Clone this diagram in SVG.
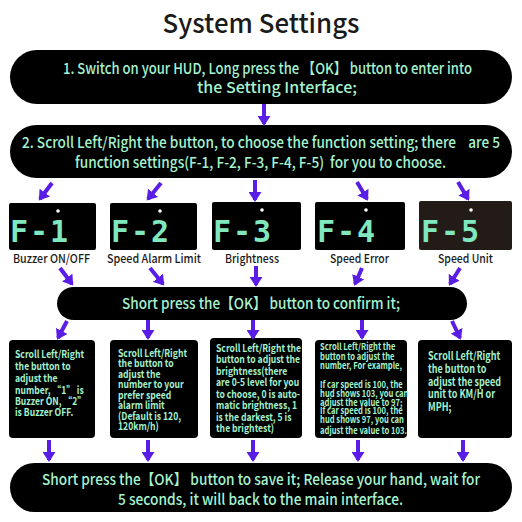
<svg xmlns="http://www.w3.org/2000/svg" width="522" height="522" viewBox="0 0 522 522">
<style>
.bar{fill:#000}
.t{font-family:"Noto Sans CJK SC","Noto Sans",sans-serif;font-weight:500;fill:#a6f2cc;text-anchor:middle;font-size:15px;white-space:pre}
.b{font-family:"Noto Sans CJK SC","Noto Sans",sans-serif;font-weight:700;fill:#a6f2cc}
.lbl{font-family:"Noto Sans CJK SC","Noto Sans",sans-serif;font-weight:500;fill:#1a1a1a;font-size:12px;text-anchor:middle}
.seg{font-family:"DejaVu Sans Mono",monospace;font-weight:700;fill:#7fe8bf;font-size:30px}
.arr{stroke:#5a1de6;stroke-width:4;fill:none;marker-end:url(#ah)}
</style>
<defs>
<marker id="ah" markerUnits="userSpaceOnUse" markerWidth="13" markerHeight="13" refX="8" refY="6.5" orient="auto">
<path d="M0,0 L10,6.5 L0,13 z" fill="#5a1de6"/>
</marker>
</defs>
<rect width="522" height="522" fill="#fff"/>
<text x="261" y="33" font-family="'Noto Sans CJK SC','Noto Sans',sans-serif" font-weight="500" font-size="26" fill="#1a1a1a" text-anchor="middle" textLength="197" lengthAdjust="spacingAndGlyphs">System Settings</text>

<g id="step1">
<rect class="bar" x="10" y="50" width="502" height="54" rx="27"/>
<text class="t" x="267.5" y="74" textLength="409" lengthAdjust="spacingAndGlyphs">1. Switch on your HUD, Long press the 【OK】 button to enter into</text>
<text class="t" x="277" y="93" textLength="160" lengthAdjust="spacingAndGlyphs">the Setting Interface;</text>
</g>

<g id="step2">
<rect class="bar" x="10" y="125" width="502" height="53" rx="26.5"/>
<text class="t" x="261" y="148" textLength="478" lengthAdjust="spacingAndGlyphs">2. Scroll Left/Right the button, to choose the function setting; there    are 5</text>
<text class="t" x="260.5" y="168" textLength="371" lengthAdjust="spacingAndGlyphs">function settings(F-1, F-2, F-3, F-4, F-5)  for you to choose.</text>
</g>

<g id="f1">
<rect x="9" y="203" width="87" height="47" rx="2" fill="#000"/>
<circle cx="58" cy="211" r="1.8" fill="#fff"/>
<text class="seg" x="10" y="242" letter-spacing="2">F-1</text>
<text class="lbl" x="51.5" y="263" textLength="77" lengthAdjust="spacingAndGlyphs">Buzzer ON/OFF</text>
</g>
<g id="f2">
<rect x="110" y="203" width="87" height="47" rx="2" fill="#000"/>
<circle cx="160" cy="211" r="1.8" fill="#fff"/>
<text class="seg" x="111" y="242" letter-spacing="2">F-2</text>
<text class="lbl" x="154" y="263" textLength="94" lengthAdjust="spacingAndGlyphs">Speed Alarm Limit</text>
</g>
<g id="f3">
<rect x="212" y="202" width="89" height="48" rx="2" fill="#000"/>
<circle cx="262" cy="210" r="1.8" fill="#fff"/>
<text class="seg" x="213" y="242" letter-spacing="2">F-3</text>
<text class="lbl" x="252" y="263" textLength="54" lengthAdjust="spacingAndGlyphs">Brightness</text>
</g>
<g id="f4">
<rect x="315" y="202" width="90" height="48" rx="2" fill="#000"/>
<circle cx="366" cy="210" r="1.8" fill="#fff"/>
<text class="seg" x="317" y="242" letter-spacing="2">F-4</text>
<text class="lbl" x="359.5" y="263" textLength="59" lengthAdjust="spacingAndGlyphs">Speed Error</text>
</g>
<g id="f5">
<rect x="419" y="201" width="93" height="49" rx="2" fill="#231b17"/>
<circle cx="471" cy="210" r="1.8" fill="#fff"/>
<text class="seg" x="421" y="242" letter-spacing="2">F-5</text>
<text class="lbl" x="465.5" y="263" textLength="55" lengthAdjust="spacingAndGlyphs">Speed Unit</text>
</g>

<g id="confirm">
<rect class="bar" x="57" y="287" width="410" height="33" rx="16.5"/>
<text class="t" x="261" y="309" textLength="278" lengthAdjust="spacingAndGlyphs">Short press the【OK】 button to confirm it;</text>
</g>

<g id="d1">
<rect x="9" y="340" width="86" height="98" rx="4" fill="#000"/>
<g transform="translate(15 0) scale(0.82 1)">
<text class="b" font-size="10.5">
<tspan x="0" y="358">Scroll Left/Right</tspan>
<tspan x="0" y="370">the button to</tspan>
<tspan x="0" y="382">adjust the</tspan>
<tspan x="0" y="394">number, “1”  is</tspan>
<tspan x="0" y="405">Buzzer ON,  “2”</tspan>
<tspan x="0" y="416">is Buzzer OFF.</tspan>
</text>
</g>
</g>
<g id="d2">
<rect x="110" y="340" width="88" height="98" rx="4" fill="#000"/>
<g transform="translate(118 0) scale(0.82 1)">
<text class="b" font-size="10.5">
<tspan x="0" y="357">Scroll Left/Right</tspan>
<tspan x="0" y="367.5">the button to</tspan>
<tspan x="0" y="378">adjust the</tspan>
<tspan x="0" y="388.5">number to your</tspan>
<tspan x="0" y="399">prefer speed</tspan>
<tspan x="0" y="409.5">alarm limit</tspan>
<tspan x="0" y="420">(Default is 120,</tspan>
<tspan x="0" y="430.5">120km/h)</tspan>
</text>
</g>
</g>
<g id="d3">
<rect x="210" y="338" width="92" height="100" rx="4" fill="#000"/>
<g transform="translate(216 0) scale(0.82 1)">
<text class="b" font-size="10.5">
<tspan x="0" y="352">Scroll Left/Right the</tspan>
<tspan x="0" y="363.5">button to adjust the</tspan>
<tspan x="0" y="375">brightness(there</tspan>
<tspan x="0" y="386.5">are 0-5 level for you</tspan>
<tspan x="0" y="398">to choose, 0 is auto-</tspan>
<tspan x="0" y="409.5">matic brightness, 1</tspan>
<tspan x="0" y="421">is the darkest, 5 is</tspan>
<tspan x="0" y="432.5">the brightest)</tspan>
</text>
</g>
</g>
<g id="d4">
<rect x="315" y="340" width="92" height="98" rx="4" fill="#000"/>
<g transform="translate(320 0) scale(0.82 1)">
<text class="b" font-size="9.3">
<tspan x="0" y="350">Scroll Left/Right the</tspan>
<tspan x="0" y="360">button to adjust the</tspan>
<tspan x="0" y="369.5">number, For example,</tspan>
<tspan x="0" y="388">If car speed is 100, the</tspan>
<tspan x="0" y="397">hud shows 103, you can</tspan>
<tspan x="0" y="406">adjust the value to 97;</tspan>
<tspan x="0" y="414.5">If car speed is 100, the</tspan>
<tspan x="0" y="423.5">hud shows 97, you can</tspan>
<tspan x="0" y="434">adjust the value to 103.</tspan>
</text>
</g>
</g>
<g id="d5">
<rect x="418" y="340" width="94" height="98" rx="4" fill="#000"/>
<g transform="translate(428 0) scale(0.82 1)">
<text class="b" font-size="11">
<tspan x="0" y="360">Scroll Left/Right</tspan>
<tspan x="0" y="373">the button to</tspan>
<tspan x="0" y="386">adjust the speed</tspan>
<tspan x="0" y="398">unit to KM/H or</tspan>
<tspan x="0" y="411">MPH;</tspan>
</text>
</g>
</g>

<g id="final">
<rect class="bar" x="10" y="463" width="502" height="49" rx="24.5"/>
<text class="t" x="261" y="485" textLength="438" lengthAdjust="spacingAndGlyphs">Short press the【OK】 button to save it; Release your hand, wait for</text>
<text class="t" x="260.5" y="505" textLength="285" lengthAdjust="spacingAndGlyphs">5 seconds, it will back to the main interface.</text>
</g>

<g id="connectors">
<line class="arr" x1="264" y1="104" x2="264" y2="124"/>
<line class="arr" x1="52" y1="183" x2="40" y2="199"/>
<line class="arr" x1="161" y1="183" x2="148" y2="199"/>
<line class="arr" x1="255" y1="180" x2="255" y2="200"/>
<line class="arr" x1="357" y1="182" x2="367" y2="199"/>
<line class="arr" x1="458" y1="182" x2="468" y2="199"/>
<line class="arr" x1="60" y1="268" x2="72" y2="284"/>
<line class="arr" x1="150" y1="268" x2="163" y2="284"/>
<line class="arr" x1="256" y1="266" x2="256" y2="285"/>
<line class="arr" x1="362" y1="268" x2="355" y2="284"/>
<line class="arr" x1="460" y1="268" x2="450" y2="284"/>
<line class="arr" x1="67" y1="321" x2="58" y2="338"/>
<line class="arr" x1="148" y1="320" x2="148" y2="338"/>
<line class="arr" x1="253" y1="320" x2="253" y2="338"/>
<line class="arr" x1="362" y1="320" x2="362" y2="338"/>
<line class="arr" x1="452" y1="321" x2="460" y2="338"/>
<line class="arr" x1="49" y1="440" x2="49" y2="460"/>
<line class="arr" x1="148" y1="440" x2="148" y2="460"/>
<line class="arr" x1="253" y1="440" x2="253" y2="460"/>
<line class="arr" x1="358" y1="440" x2="358" y2="460"/>
<line class="arr" x1="463" y1="440" x2="463" y2="460"/>
</g>
</svg>
